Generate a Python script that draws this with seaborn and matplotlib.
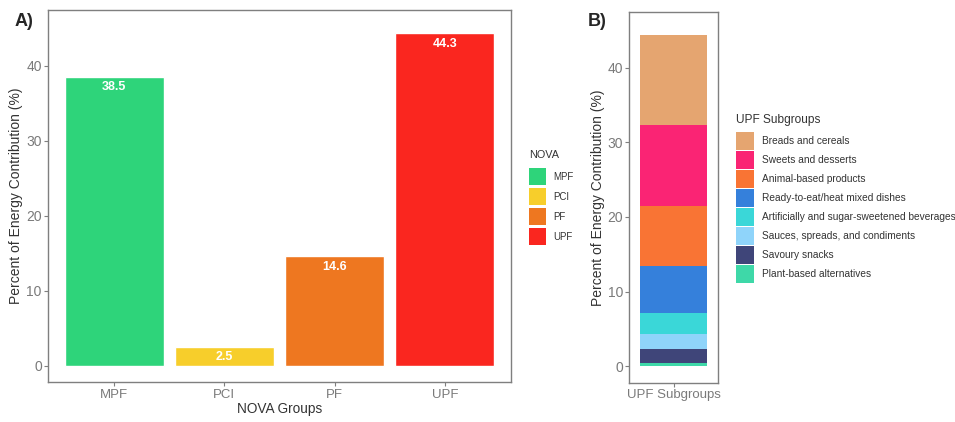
import numpy as np
import pandas as pd
import matplotlib
matplotlib.use("Agg")
import matplotlib.pyplot as plt
from matplotlib.patches import Patch
import seaborn as sns

# NOVA groups and their share of total energy intake (%)
nova_groups = ["MPF", "PCI", "PF", "UPF"]
nova_values = [38.5, 2.5, 14.6, 44.3]
nova_colors = ["#2ED47A", "#F7CE2B", "#EE7720", "#FA261F"]

# UPF subgroups, listed from the top of the stack to the bottom
upf_subgroups = [
    "Breads and cereals",
    "Sweets and desserts",
    "Animal-based products",
    "Ready-to-eat/heat mixed dishes",
    "Artificially and sugar-sweetened beverages",
    "Sauces, spreads, and condiments",
    "Savoury snacks",
    "Plant-based alternatives",
]
upf_values = [12.0, 10.8, 8.1, 6.3, 2.8, 2.0, 1.8, 0.5]
upf_colors = ["#E5A570", "#FA2474", "#F97434", "#3580DB",
              "#3AD7D8", "#8FD4FA", "#3F4579", "#3ED8A8"]

sns.set_theme(style="ticks")
plt.rcParams["font.family"] = ["Liberation Sans", "DejaVu Sans"]

W, H = 955, 422
fig = plt.figure(figsize=(W / 100, H / 100), dpi=100)

def fx(px):
    return px / W

def fy(px):
    return 1 - px / H

frame_col = "#7F7F7F"
tick_col = "#7A7A7A"
title_col = "#333333"

def style_axes(ax):
    for s in ax.spines.values():
        s.set_visible(True)
        s.set_color(frame_col)
        s.set_linewidth(1.0)
    ax.tick_params(axis="both", colors=frame_col, labelcolor=tick_col,
                   labelsize=10, length=3, width=0.8, pad=1.5)
    ax.tick_params(axis="x", labelsize=9.5)
    ax.set_yticks([0, 10, 20, 30, 40])

def legend_box(handles, labels, title, title_xy, keys_xy, fs, tfs,
               key_px, gap_px):
    # title drawn on its own, keys stacked below it
    fig.text(fx(title_xy[0]), fy(title_xy[1]), title, fontsize=tfs,
             color=title_col, ha="left", va="center")
    em = fs * 100 / 72
    hh = (key_px / em - 0.245) / 0.65
    return fig.legend(
        handles=handles, labels=labels, loc="upper left",
        bbox_to_anchor=(fx(keys_xy[0]), fy(keys_xy[1])), frameon=False,
        fontsize=fs, handlelength=key_px / em, handleheight=hh,
        handletextpad=0.75, labelspacing=gap_px / em, borderpad=0,
        borderaxespad=0, labelcolor=title_col)

# ---- Panel A: energy share per NOVA group ----
axA = fig.add_axes([fx(48), fy(382.3), fx(511 - 48), (382.3 - 10) / H])
dfA = pd.DataFrame({"group": nova_groups, "value": nova_values})
sns.barplot(data=dfA, x="group", y="value", hue="group", order=nova_groups,
            hue_order=nova_groups, palette=nova_colors, width=0.9,
            saturation=1, legend=False, ax=axA)
axA.set_xlim(-0.6, 3.6)
axA.set_ylim(-2.2, 47.4)
style_axes(axA)
axA.set_xlabel("NOVA Groups", fontsize=9.8, color=title_col, labelpad=1)
axA.set_ylabel("Percent of Energy Contribution (%)", fontsize=10,
               color=title_col, labelpad=2)
for i, v in enumerate(nova_values):
    axA.annotate(f"{v:.1f}", xy=(i, v), xytext=(0, -7.5),
                 textcoords="offset points", ha="center", va="center",
                 color="white", fontweight="bold", fontsize=9)

fig.text(fx(15), fy(22), "A)", fontsize=13, fontweight="bold",
         ha="left", va="center")

legend_box([Patch(facecolor=c, edgecolor="none") for c in nova_colors],
           nova_groups, "NOVA", (529, 155.5), (529, 168), 7.0, 7.8, 17, 3)

# ---- Panel B: UPF subgroups stacked in a single bar ----
axB = fig.add_axes([fx(629.3), fy(382.7), fx(718.3 - 629.3), (382.7 - 12.3) / H])
dfB = pd.DataFrame({"subgroup": upf_subgroups, "value": upf_values})
stack_order = dfB.iloc[::-1].reset_index(drop=True)
bottoms = np.concatenate([[0], np.cumsum(stack_order["value"].to_numpy())[:-1]])
col_map = dict(zip(upf_subgroups, upf_colors))
for (_, row), b in zip(stack_order.iterrows(), bottoms):
    axB.bar(["UPF Subgroups"], [row["value"]], bottom=b, width=0.9,
            color=col_map[row["subgroup"]], edgecolor="none")
axB.set_xlim(-0.6, 0.6)
axB.set_ylim(-2.2, 47.4)
style_axes(axB)
axB.set_xlabel("")
axB.set_ylabel("Percent of Energy Contribution (%)", fontsize=10,
               color=title_col, labelpad=2)

fig.text(fx(588), fy(22), "B)", fontsize=13, fontweight="bold",
         ha="left", va="center")

legend_box([Patch(facecolor=c, edgecolor="none") for c in upf_colors],
           upf_subgroups, "UPF Subgroups", (736, 120), (736, 132), 7.3, 8.6,
           18, 1)

fig.savefig("out.png", dpi=100, facecolor="white")
